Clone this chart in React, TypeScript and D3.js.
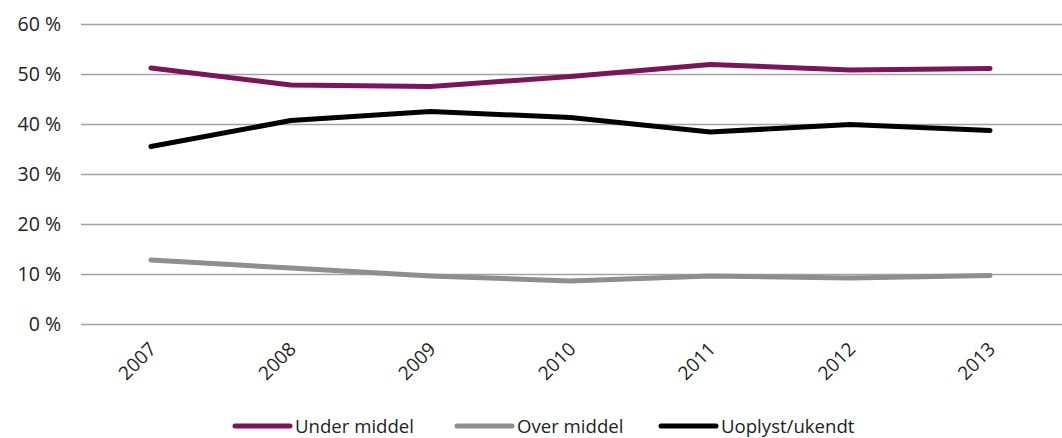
import React from "react";
import * as d3 from "d3";

const years = ["2007", "2008", "2009", "2010", "2011", "2012", "2013"];
const underMiddel = [51.3, 47.9, 47.6, 49.6, 52.0, 50.9, 51.2];
const overMiddel = [12.9, 11.3, 9.7, 8.7, 9.7, 9.3, 9.8];
const uoplyst = [35.6, 40.8, 42.6, 41.4, 38.5, 40.0, 38.8];
const yTicks = [0, 10, 20, 30, 40, 50, 60];

const seriesNames = ["Under middel", "Over middel", "Uoplyst/ukendt"];
const seriesColors = ["#7D1459", "#8E8E8E", "#000000"];

const W = 1062;
const H = 438;
const FONT = "'Open Sans', 'Noto Sans', sans-serif";

export default function App() {
  const x = d3.scaleBand<string>().domain(years).range([81, 1060]);
  const y = d3.scaleLinear().domain([0, 60]).range([324.5, 24.5]);
  const line = d3
    .line<number>()
    .x((_, i) => (x(years[i]) as number) + x.bandwidth() / 2)
    .y((d) => y(d));

  const data = [underMiddel, overMiddel, uoplyst];
  const legendX = [235, 457, 661];

  return (
    <div style={{ position: "absolute", left: 0, top: 0 }}>
      <svg width={W} height={H} style={{ display: "block" }}>
        <rect width={W} height={H} fill="#fff" />
        {yTicks.map((t) => (
          <g key={t}>
            <line x1={81} x2={1062} y1={y(t)} y2={y(t)} stroke="#A3A3A3" strokeWidth={1.5} />
            <text
              x={61}
              y={y(t)}
              dy="0.35em"
              textAnchor="end"
              fontFamily={FONT}
              fontSize={19.5}
              fill="#222"
            >
              {t}{"\u00a0"}%
            </text>
          </g>
        ))}
        {years.map((yr) => {
          const cx = (x(yr) as number) + x.bandwidth() / 2;
          return (
            <text
              key={yr}
              transform={`translate(${cx - 3},${341}) rotate(-45)`}
              textAnchor="end"
              dy="0.7em"
              fontFamily={FONT}
              fontSize={19}
              fill="#222"
            >
              {yr}
            </text>
          );
        })}
        {data.map((d, i) => (
          <path
            key={i}
            d={line(d) as string}
            fill="none"
            stroke={seriesColors[i]}
            strokeWidth={5}
            strokeLinecap="round"
            strokeLinejoin="round"
          />
        ))}
        {seriesNames.map((n, i) => (
          <g key={n}>
            <line
              x1={legendX[i]}
              x2={legendX[i] + 55}
              y1={426}
              y2={426}
              stroke={seriesColors[i]}
              strokeWidth={5}
              strokeLinecap="round"
            />
            <text
              x={legendX[i] + 60}
              y={426}
              dy="0.35em"
              fontFamily={FONT}
              fontSize={18.6}
              fill="#222"
            >
              {n}
            </text>
          </g>
        ))}
      </svg>
    </div>
  );
}
